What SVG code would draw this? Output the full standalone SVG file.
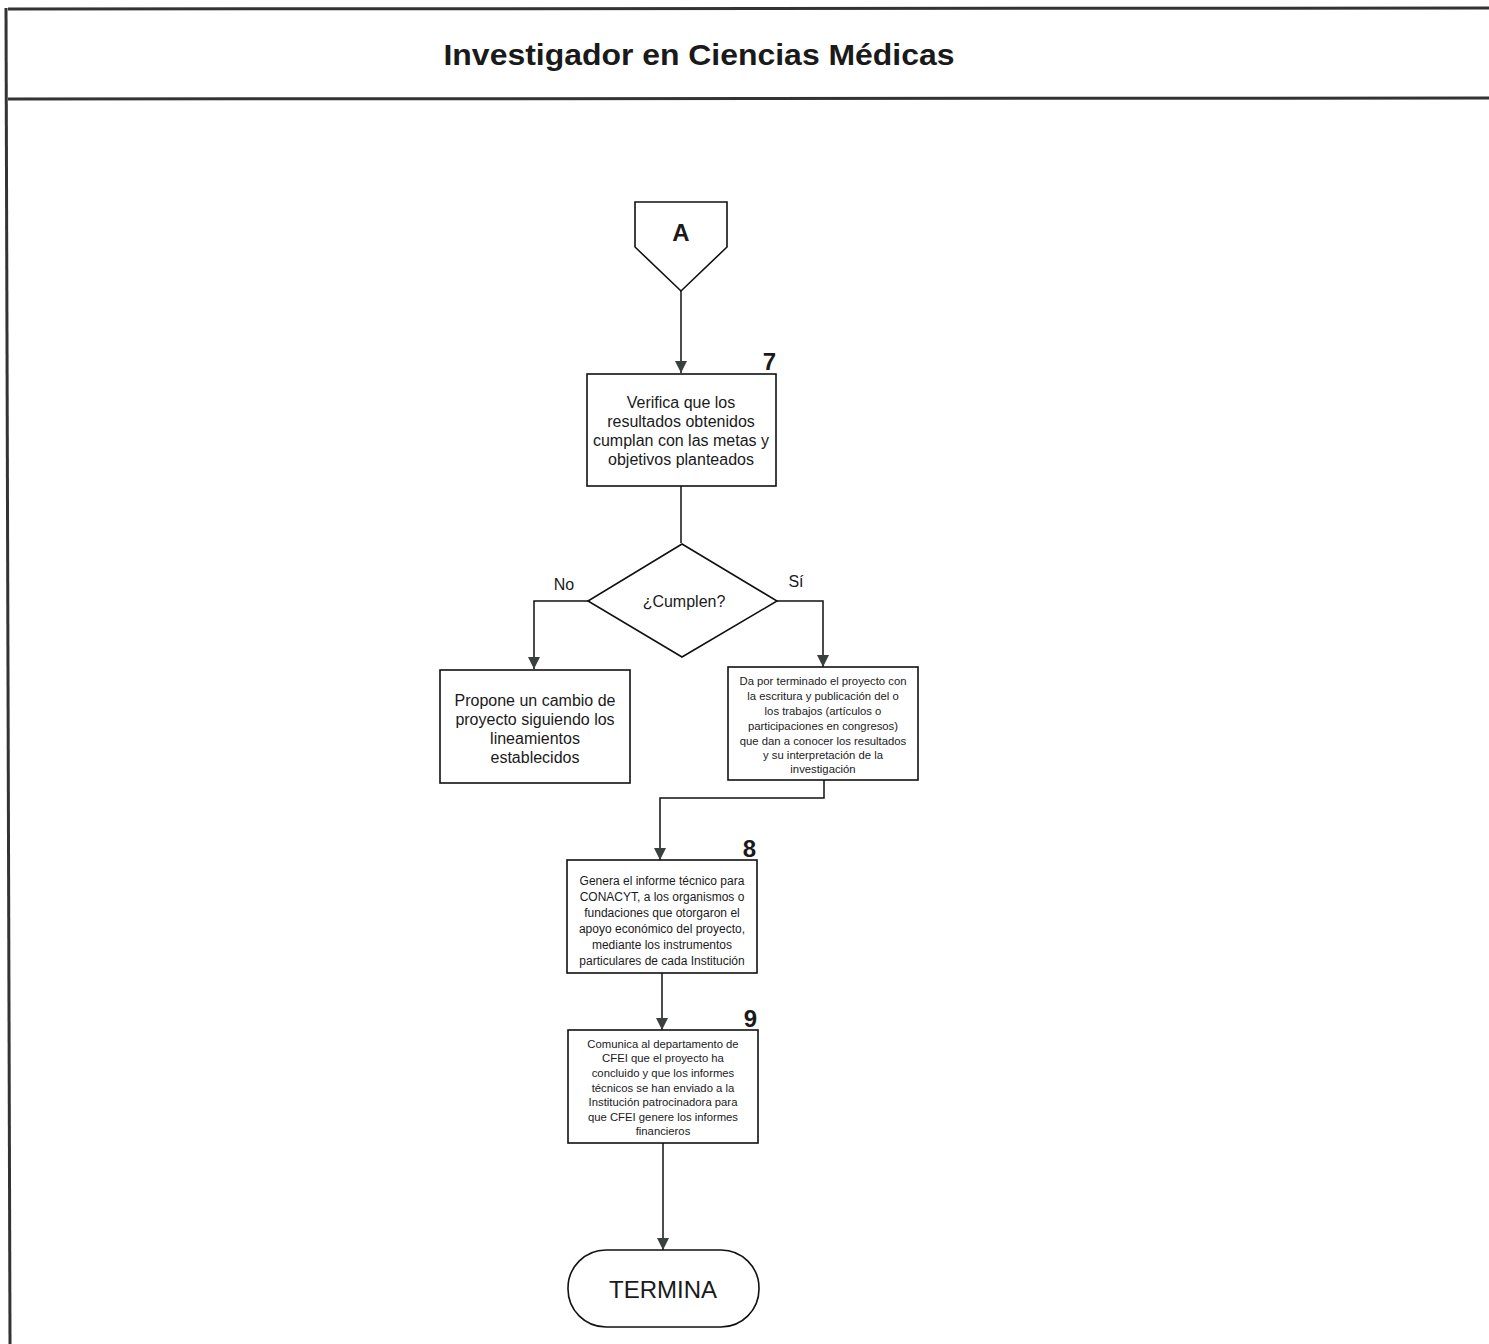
<svg xmlns="http://www.w3.org/2000/svg" width="1489" height="1344" viewBox="0 0 1489 1344">
<style>
.frame{stroke:#333;stroke-width:3;fill:none}
.box{fill:#fff;stroke:#111;stroke-width:1.6}
.ln{fill:none;stroke:#111;stroke-width:1.5}
.t{font-family:"Liberation Sans",Arial,sans-serif;fill:#1a1a1a;text-anchor:middle}
.num{font-family:"Liberation Sans",Arial,sans-serif;font-weight:bold;font-size:24px;fill:#1a1a1a;text-anchor:end}
</style>
<defs>
<marker id="ah" viewBox="0 0 12 12" refX="12" refY="6" markerWidth="12" markerHeight="12" markerUnits="userSpaceOnUse" orient="auto">
<path d="M0,0 L12,6 L0,12 Z" fill="#3a3f3f"/>
</marker>
</defs>
<rect width="1489" height="1344" fill="#fff"/>
<g id="frame">
<line class="frame" x1="8" y1="9" x2="1489" y2="8"/>
<line class="frame" x1="8" y1="99" x2="1489" y2="98"/>
<line class="frame" x1="6" y1="8" x2="10" y2="1344"/>
<text class="t" x="699" y="65" font-size="30" font-weight="bold" textLength="511" lengthAdjust="spacingAndGlyphs">Investigador en Ciencias Médicas</text>
</g>
<g id="connectors">
<line class="ln" x1="681" y1="291" x2="681" y2="373" marker-end="url(#ah)"/>
<line class="ln" x1="681" y1="486" x2="681" y2="543"/>
<polyline class="ln" points="588,601 534,601 534,669" marker-end="url(#ah)"/>
<polyline class="ln" points="777,601 823,601 823,667" marker-end="url(#ah)"/>
<polyline class="ln" points="824,780 824,798 660,798 660,860" marker-end="url(#ah)"/>
<line class="ln" x1="662" y1="958" x2="662" y2="1030" marker-end="url(#ah)"/>
<line class="ln" x1="663" y1="1143" x2="663" y2="1250" marker-end="url(#ah)"/>
</g>
<g id="nodeA">
<polygon class="box" points="635,202 727,202 727,247 681,291 635,247"/>
<text class="t" x="681" y="241" font-size="24" font-weight="bold">A</text>
</g>
<g id="node7">
<rect class="box" x="587" y="374" width="189" height="112"/>
<text class="num" x="776" y="370">7</text>
<text class="t" font-size="16"><tspan x="681" y="408">Verifica que los</tspan><tspan x="681" y="427">resultados obtenidos</tspan><tspan x="681" y="446">cumplan con las metas y</tspan><tspan x="681" y="465">objetivos planteados</tspan></text>
</g>
<g id="decision">
<polygon class="box" points="682,544 777,601 682,657 588,601"/>
<text class="t" x="684" y="607" font-size="16">¿Cumplen?</text>
<text class="t" x="564" y="590" font-size="16">No</text>
<text class="t" x="796" y="587" font-size="16">Sí</text>
</g>
<g id="nodeNo">
<rect class="box" x="440" y="670" width="190" height="113"/>
<text class="t" font-size="16"><tspan x="535" y="706">Propone un cambio de</tspan><tspan x="535" y="725">proyecto siguiendo los</tspan><tspan x="535" y="744">lineamientos</tspan><tspan x="535" y="763">establecidos</tspan></text>
</g>
<g id="nodeSi">
<rect class="box" x="728" y="667" width="190" height="113"/>
<text class="t" font-size="11.3"><tspan x="823" y="685">Da por terminado el proyecto con</tspan><tspan x="823" y="700">la escritura y publicación del o</tspan><tspan x="823" y="715">los trabajos (artículos o</tspan><tspan x="823" y="730">participaciones en congresos)</tspan><tspan x="823" y="745">que dan a conocer los resultados</tspan><tspan x="823" y="759">y su interpretación de la</tspan><tspan x="823" y="773">investigación</tspan></text>
</g>
<g id="node8">
<rect class="box" x="567" y="860" width="190" height="113"/>
<text class="num" x="756" y="857">8</text>
<text class="t" font-size="12"><tspan x="662" y="885">Genera el informe técnico para</tspan><tspan x="662" y="901">CONACYT, a los organismos o</tspan><tspan x="662" y="917">fundaciones que otorgaron el</tspan><tspan x="662" y="933">apoyo económico del proyecto,</tspan><tspan x="662" y="949">mediante los instrumentos</tspan><tspan x="662" y="965">particulares de cada Institución</tspan></text>
</g>
<g id="node9">
<rect class="box" x="568" y="1030" width="190" height="113"/>
<text class="num" x="757" y="1027">9</text>
<text class="t" font-size="11.3"><tspan x="663" y="1048">Comunica al departamento de</tspan><tspan x="663" y="1062">CFEI que el proyecto ha</tspan><tspan x="663" y="1077">concluido y que los informes</tspan><tspan x="663" y="1092">técnicos se han enviado a la</tspan><tspan x="663" y="1106">Institución patrocinadora para</tspan><tspan x="663" y="1121">que CFEI genere los informes</tspan><tspan x="663" y="1135">financieros</tspan></text>
</g>
<g id="termina">
<rect class="box" x="568" y="1250" width="191" height="77" rx="38" ry="38"/>
<text class="t" x="663" y="1298" font-size="24">TERMINA</text>
</g>
</svg>
